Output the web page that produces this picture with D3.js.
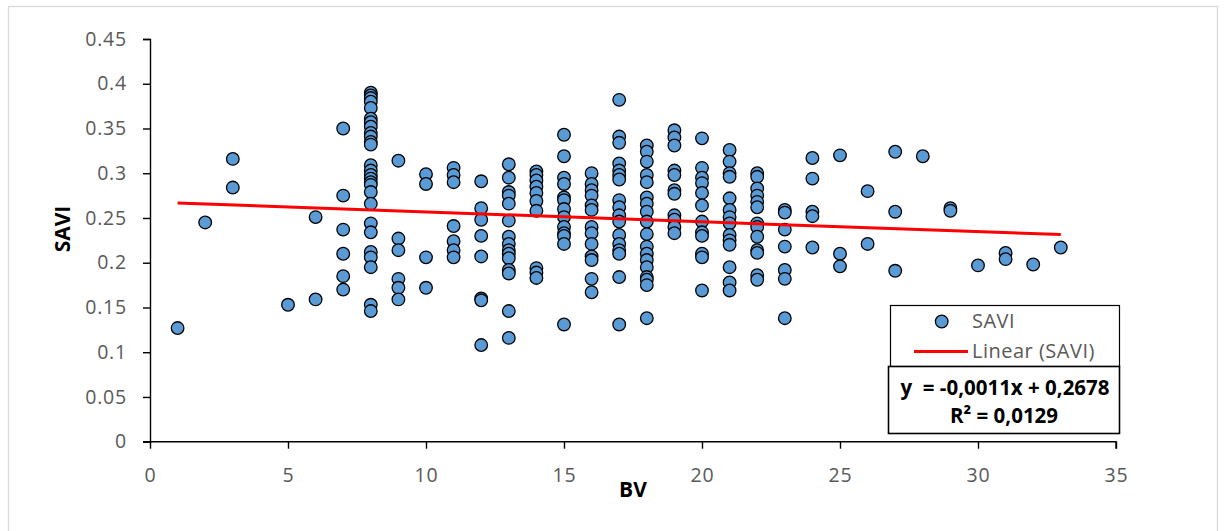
<!DOCTYPE html>
<html>
<head>
<meta charset="utf-8">
<script src="https://cdn.jsdelivr.net/npm/d3@7"></script>
<style>
  body { margin: 0; background: #fff; }
  svg { display: block; font-family: "Open Sans", sans-serif; }
</style>
</head>
<body>
<div id="chart"></div>
<script>
// BV classes and the SAVI values read for each one
const bvValues = [1, 2, 3, 5, 6, 7, 8, 9, 10, 11, 12, 13, 14, 15, 16, 17, 18, 19, 20, 21, 22, 23, 24, 25, 26, 27, 28, 29, 30, 31, 32, 33];
const saviByBV = [
  [0.127],
  [0.245],
  [0.316, 0.284],
  [0.153],
  [0.251, 0.159],
  [0.350, 0.275, 0.237, 0.210, 0.185, 0.170],
  [0.390, 0.387, 0.384, 0.380, 0.373, 0.361, 0.357, 0.352, 0.345, 0.341, 0.335, 0.332, 0.309, 0.303, 0.298, 0.294, 0.290, 0.287, 0.279, 0.266, 0.244, 0.234, 0.212, 0.206, 0.195, 0.153, 0.146],
  [0.314, 0.227, 0.214, 0.182, 0.172, 0.159],
  [0.299, 0.288, 0.206, 0.172],
  [0.306, 0.298, 0.290, 0.241, 0.224, 0.214, 0.206],
  [0.291, 0.261, 0.248, 0.230, 0.207, 0.160, 0.158, 0.108],
  [0.310, 0.295, 0.279, 0.275, 0.266, 0.247, 0.229, 0.221, 0.214, 0.210, 0.205, 0.192, 0.188, 0.146, 0.116],
  [0.302, 0.298, 0.292, 0.285, 0.278, 0.269, 0.258, 0.194, 0.189, 0.183],
  [0.343, 0.319, 0.295, 0.288, 0.273, 0.270, 0.260, 0.251, 0.240, 0.233, 0.230, 0.221, 0.131],
  [0.300, 0.288, 0.281, 0.275, 0.264, 0.259, 0.240, 0.233, 0.221, 0.207, 0.203, 0.182, 0.167],
  [0.382, 0.341, 0.334, 0.311, 0.303, 0.298, 0.293, 0.270, 0.262, 0.253, 0.246, 0.231, 0.221, 0.214, 0.210, 0.184, 0.131],
  [0.331, 0.324, 0.313, 0.298, 0.290, 0.273, 0.266, 0.257, 0.246, 0.232, 0.218, 0.210, 0.203, 0.195, 0.184, 0.181, 0.175, 0.138],
  [0.348, 0.340, 0.331, 0.303, 0.298, 0.281, 0.277, 0.253, 0.248, 0.240, 0.233],
  [0.339, 0.306, 0.295, 0.289, 0.278, 0.264, 0.246, 0.234, 0.230, 0.210, 0.206, 0.169],
  [0.326, 0.313, 0.300, 0.296, 0.272, 0.259, 0.251, 0.244, 0.231, 0.225, 0.220, 0.195, 0.178, 0.169],
  [0.300, 0.296, 0.283, 0.275, 0.268, 0.262, 0.244, 0.240, 0.229, 0.214, 0.211, 0.186, 0.181],
  [0.259, 0.256, 0.237, 0.218, 0.192, 0.182, 0.138],
  [0.317, 0.294, 0.257, 0.252, 0.217],
  [0.320, 0.210, 0.196],
  [0.280, 0.221],
  [0.324, 0.257, 0.191],
  [0.319],
  [0.261, 0.258],
  [0.197],
  [0.211, 0.204],
  [0.198],
  [0.217]
];
const xTicks = [0, 5, 10, 15, 20, 25, 30, 35];
const yTicks = [0, 0.05, 0.1, 0.15, 0.2, 0.25, 0.3, 0.35, 0.4, 0.45];
const trendSlope = -0.0011;
const trendIntercept = 0.2678;
const trendRange = [1, 33];

const width = 1224, height = 531;
const points = [];
bvValues.forEach((bv, i) => saviByBV[i].forEach(v => points.push({ x: bv, y: v })));

const x = d3.scaleLinear().domain([0, 35]).range([150, 1116]);
const y = d3.scaleLinear().domain([0, 0.45]).range([441.7, 39]);

const svg = d3.select("#chart").append("svg")
    .attr("width", width)
    .attr("height", height);

svg.append("rect")
    .attr("x", 8.5).attr("y", 6.5)
    .attr("width", 1209).attr("height", 540)
    .attr("fill", "#fff")
    .attr("stroke", "#d9d9d9")
    .attr("stroke-width", 1.3);

// axes
const xAxis = svg.append("g")
    .attr("transform", `translate(0,${y(0)})`)
    .call(d3.axisBottom(x).tickValues(xTicks).tickSize(7).tickPadding(19).tickFormat(d3.format("d")));
const yAxis = svg.append("g")
    .attr("transform", `translate(${x(0)},0)`)
    .call(d3.axisLeft(y).tickValues(yTicks).tickSize(7).tickPadding(16).tickFormat(d => d === 0 ? "0" : String(+d.toFixed(2))));

[xAxis, yAxis].forEach(g => {
    g.select(".domain").attr("stroke", "#000").attr("stroke-width", 1.4);
    g.selectAll(".tick line").attr("stroke", "#000").attr("stroke-width", 1.4);
    g.selectAll(".tick text").attr("fill", "#595959")
        .style("font-size", "19.5px").style("letter-spacing", "0.8px")
        .style("font-family", "'Open Sans', sans-serif");
});
// x axis line starts at the left tick end like Excel
xAxis.select(".domain").attr("d", `M143,0H${x(35)}V7`);

svg.append("text")
    .attr("transform", `translate(70,229) rotate(-90)`)
    .attr("text-anchor", "middle")
    .attr("font-size", 21).attr("font-weight", "bold")
    .text("SAVI");

svg.append("text")
    .attr("x", 633).attr("y", 497)
    .attr("text-anchor", "middle")
    .attr("font-size", 21).attr("font-weight", "bold")
    .text("BV");

// points
svg.append("g")
    .selectAll("circle")
    .data(points)
    .join("circle")
    .attr("cx", d => x(d.x))
    .attr("cy", d => y(d.y))
    .attr("r", 6.3)
    .attr("fill", "#5b9bd5")
    .attr("stroke", "#000")
    .attr("stroke-width", 1.3);

// linear trend
svg.append("line")
    .attr("x1", x(trendRange[0])).attr("y1", y(trendSlope * trendRange[0] + trendIntercept))
    .attr("x2", x(trendRange[1])).attr("y2", y(trendSlope * trendRange[1] + trendIntercept))
    .attr("stroke", "#ff0000")
    .attr("stroke-width", 3);

// legend
const legend = svg.append("g");
legend.append("rect")
    .attr("x", 890.5).attr("y", 305.5).attr("width", 229).attr("height", 61)
    .attr("fill", "#fff").attr("stroke", "#000").attr("stroke-width", 1.2);
legend.append("circle")
    .attr("cx", 941.7).attr("cy", 321.5).attr("r", 6.3)
    .attr("fill", "#5b9bd5").attr("stroke", "#000").attr("stroke-width", 1.3);
legend.append("text")
    .attr("x", 972).attr("y", 328)
    .attr("font-size", 20).attr("letter-spacing", 0.5).attr("fill", "#595959")
    .text("SAVI");
legend.append("line")
    .attr("x1", 914).attr("x2", 968).attr("y1", 351.5).attr("y2", 351.5)
    .attr("stroke", "#ff0000").attr("stroke-width", 3);
legend.append("text")
    .attr("x", 972).attr("y", 358)
    .attr("font-size", 20).attr("letter-spacing", 0.5).attr("fill", "#595959")
    .text("Linear (SAVI)");

// equation box
const eq = svg.append("g");
eq.append("rect")
    .attr("x", 888.5).attr("y", 366.5).attr("width", 231).attr("height", 67)
    .attr("fill", "#fff").attr("stroke", "#000").attr("stroke-width", 1.6);
eq.append("text")
    .attr("x", 1005).attr("y", 395)
    .attr("text-anchor", "middle")
    .attr("font-size", 20.5).attr("font-weight", "bold")
    .attr("xml:space", "preserve")
    .style("white-space", "pre")
    .text("y  = -0,0011x + 0,2678");
eq.append("text")
    .attr("x", 1004).attr("y", 423)
    .attr("text-anchor", "middle")
    .attr("font-size", 20.5).attr("font-weight", "bold")
    .text("R² = 0,0129");
</script>
</body>
</html>
